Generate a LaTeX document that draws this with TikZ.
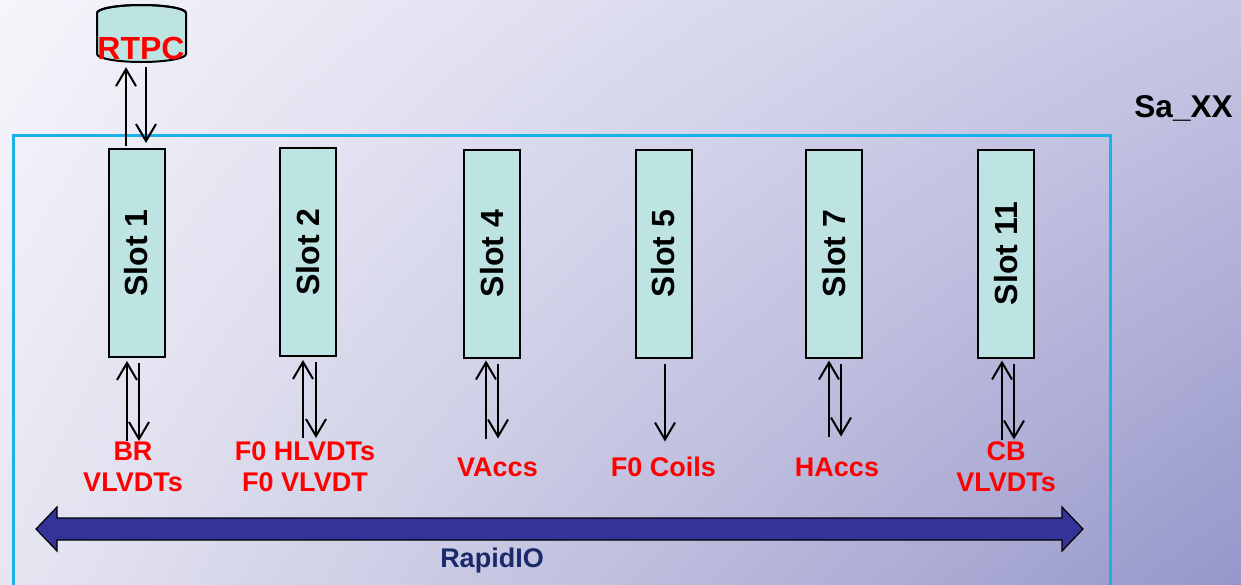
\documentclass[tikz,border=0pt]{standalone}
\usepackage{fontspec}
\setmainfont{Liberation Sans}
\usetikzlibrary{arrows.meta,calc,shadings}
\definecolor{bgUL}{HTML}{F5F5FB}
\definecolor{bgUR}{HTML}{C6C6E4}
\definecolor{bgLL}{HTML}{E6E6F2}
\definecolor{bgLR}{HTML}{9696CA}
\definecolor{slotfill}{HTML}{BDE3E3}
\definecolor{framecyan}{HTML}{1AB0E8}
\definecolor{busfill}{HTML}{333399}
\definecolor{busnavy}{HTML}{1A2A6A}
\definecolor{lblred}{HTML}{FF0000}
\tikzset{
  slotbox/.style={draw=black, line width=2pt, fill=slotfill, minimum width=56pt, minimum height=208pt, inner sep=0pt,
    font=\fontsize{32}{38}\selectfont\bfseries},
  sig/.style={draw=black, line width=2pt, -{Straight Barb[length=17pt,width=20pt]}},
  lbl/.style={text=lblred, font=\fontsize{27}{31}\selectfont\bfseries, align=center, inner sep=0pt},
}
\begin{document}
\begin{tikzpicture}[x=1pt,y=-1pt]
\useasboundingbox (0,0) rectangle (1241,584);
\shade[upper left=bgUL, upper right=bgUR, lower left=bgLL, lower right=bgLR] (0,0) rectangle (1241,584);

% frame
\node[draw=framecyan, line width=2.5pt, minimum width=1097pt, minimum height=470pt, inner sep=0pt, anchor=north west] (frame) at (12,134) {};
\node[font=\fontsize{31.5}{36}\selectfont\bfseries, inner sep=0pt] (sa) at (1183.5,108) {Sa\_XX};

% RTPC cylinder
\node[minimum width=89pt, minimum height=57pt, inner sep=0pt] (rtpc) at (141.5,33.5) {};
\draw[line width=2pt, fill=slotfill]
  (97,13) -- (97,54) arc[start angle=180, end angle=360, x radius=44.5pt, y radius=8pt]
  -- (186,13) arc[start angle=0, end angle=180, x radius=44.5pt, y radius=8pt] -- cycle;
\draw[line width=2pt] (97,13) arc[start angle=180, end angle=360, x radius=44.5pt, y radius=-8pt];
\node[text=lblred, font=\fontsize{32}{38}\selectfont\bfseries, inner sep=0pt] (rtpclbl) at (141,48) {RTPC};

% slots
\node[slotbox] (s1) at (136.5,253) {\rotatebox{90}{Slot 1}};
\node[slotbox] (s2) at (308,252) {\rotatebox{90}{Slot 2}};
\node[slotbox] (s4) at (492,253.5) {\rotatebox{90}{Slot 4}};
\node[slotbox] (s5) at (663.5,253.5) {\rotatebox{90}{Slot 5}};
\node[slotbox] (s7) at (834,253.5) {\rotatebox{90}{Slot 7}};
\node[slotbox] (s11) at (1006,253.5) {\rotatebox{90}{Slot 11}};

% RTPC <-> slot 1
\draw[sig] ($(s1.north)+(-10.5,-2)$) -- ($(rtpc.south)+(-15.5,5)$);
\draw[sig] ($(rtpc.south)+(4.5,5)$) -- ($(s1.north)+(9.5,-5)$);

% labels
\node[lbl] (l1) at (133,467) {BR\\VLVDTs};
\node[lbl] (l2) at (305,467) {F0 HLVDTs\\F0 VLVDT};
\node[lbl] (l4) at (497.5,467) {VAccs};
\node[lbl] (l5) at (663.5,467) {F0 Coils};
\node[lbl] (l7) at (837,467) {HAccs};
\node[lbl] (l11) at (1006,467) {CB\\VLVDTs};

% slot <-> field arrows
\draw[sig] ($(s1.south)+(-9.5,83)$) -- ($(s1.south)+(-9.5,3)$);
\draw[sig] ($(s1.south)+(2.5,5)$) -- ($(s1.south)+(2.5,83)$);
\draw[sig] ($(s2.south)+(-5,81)$) -- ($(s2.south)+(-5,3)$);
\draw[sig] ($(s2.south)+(8,5)$) -- ($(s2.south)+(8,81)$);
\draw[sig] ($(s4.south)+(-6,80)$) -- ($(s4.south)+(-6,2)$);
\draw[sig] ($(s4.south)+(6,5)$) -- ($(s4.south)+(6,80)$);
\draw[sig] ($(s5.south)+(1.5,5)$) -- ($(s5.south)+(1.5,83)$);
\draw[sig] ($(s7.south)+(-5,78)$) -- ($(s7.south)+(-5,2)$);
\draw[sig] ($(s7.south)+(7,5)$) -- ($(s7.south)+(7,78)$);
\draw[sig] ($(s11.south)+(-4,81)$) -- ($(s11.south)+(-4,2)$);
\draw[sig] ($(s11.south)+(8,5)$) -- ($(s11.south)+(8,81)$);

% RapidIO bus
\coordinate (busL) at (36,529);
\coordinate (busR) at (1083,529);
\draw[fill=busfill, draw=black, line width=1.2pt]
  (busL) -- ($(busL)+(21,-22)$) -- ($(busL)+(21,-11)$) -- ($(busR)+(-21,-11)$) -- ($(busR)+(-21,-22)$)
  -- (busR) -- ($(busR)+(-21,22)$) -- ($(busR)+(-21,11)$) -- ($(busL)+(21,11)$) -- ($(busL)+(21,22)$) -- cycle;
\node[text=busnavy, font=\fontsize{27}{30}\selectfont\bfseries, inner sep=0pt] (rio) at (492,561) {RapidIO};
\end{tikzpicture}
\end{document}
